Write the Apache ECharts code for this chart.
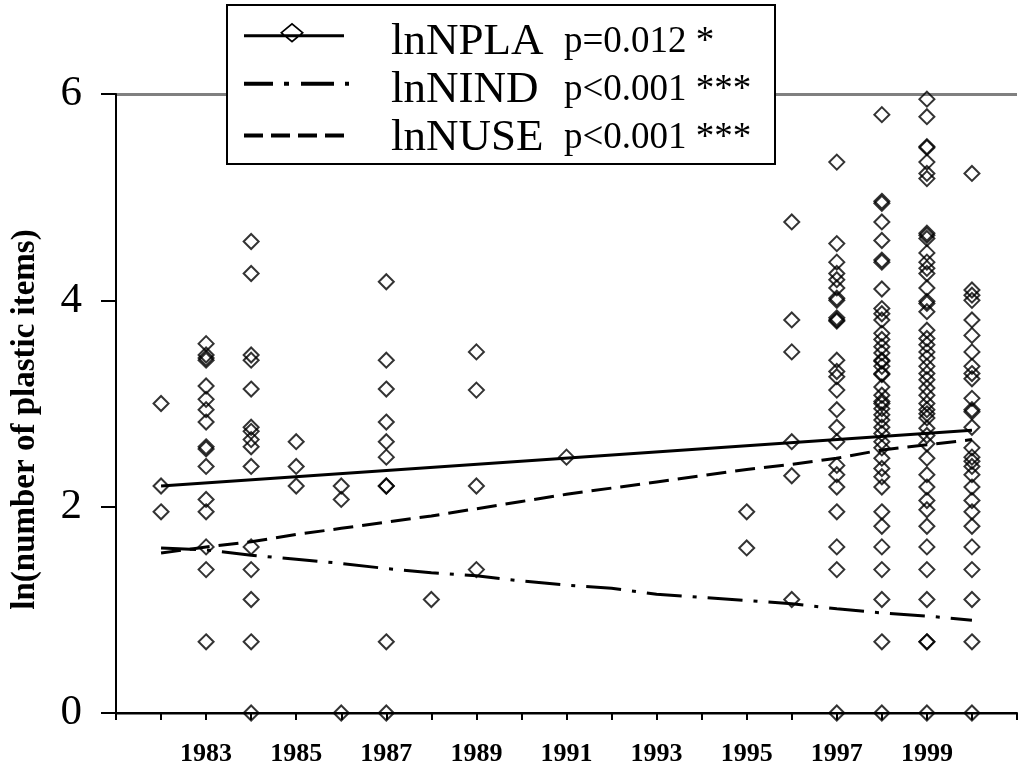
<!DOCTYPE html>
<html>
<head>
<meta charset="utf-8">
<script src="https://cdn.jsdelivr.net/npm/echarts@6/dist/echarts.min.js"></script>
<style>
  body { margin: 0; background: #fff; }
  #chart { width: 1020px; height: 769px; }
</style>
</head>
<body>
<div id="chart"></div>
<script>
// scatter points (lnNPLA), one list of values per year
var pointYears = [1982, 1983, 1984, 1985, 1986, 1987, 1988, 1989, 1991, 1995, 1996, 1997, 1998, 1999, 2000];
var pointValues = [
  [3.0, 2.2, 1.95],
  [3.58, 3.47, 3.44, 3.42, 3.17, 3.04, 2.94, 2.82, 2.58, 2.56, 2.39, 2.07, 1.95, 1.61, 1.39, 0.69],
  [4.57, 4.26, 3.47, 3.42, 3.14, 2.77, 2.73, 2.65, 2.58, 2.39, 1.61, 1.39, 1.1, 0.69, 0],
  [2.63, 2.39, 2.2],
  [2.2, 2.07, 0],
  [4.18, 3.42, 3.14, 2.82, 2.63, 2.48, 2.2, 2.2, 0.69, 0],
  [1.1],
  [3.5, 3.13, 2.2, 1.39],
  [2.48],
  [1.95, 1.6],
  [4.76, 3.81, 3.5, 2.63, 2.3, 1.1],
  [5.34, 4.55, 4.37, 4.26, 4.2, 4.12, 4.02, 4.0, 3.83, 3.81, 3.8, 3.42, 3.31, 3.26, 3.13, 2.94, 2.77, 2.63, 2.4, 2.31, 2.19, 1.95, 1.61, 1.39, 0],
  [5.8, 4.96, 4.94, 4.76, 4.58, 4.39, 4.37, 4.11, 3.92, 3.87, 3.81, 3.68, 3.62, 3.55, 3.49, 3.42, 3.41, 3.36, 3.29, 3.28, 3.16, 3.08, 3.02, 3.0, 2.95, 2.89, 2.84, 2.77, 2.71, 2.63, 2.57, 2.47, 2.37, 2.29, 2.19, 1.95, 1.81, 1.61, 1.39, 1.1, 0.69, 0],
  [5.95, 5.78, 5.49, 5.48, 5.34, 5.23, 5.18, 4.65, 4.63, 4.6, 4.46, 4.37, 4.31, 4.26, 4.12, 3.99, 3.97, 3.89, 3.71, 3.63, 3.57, 3.5, 3.44, 3.36, 3.29, 3.23, 3.15, 3.08, 3.0, 2.94, 2.9, 2.86, 2.76, 2.69, 2.61, 2.47, 2.31, 2.19, 2.06, 1.97, 1.81, 1.61, 1.39, 1.1, 0.69, 0.69, 0],
  [5.23, 4.1, 4.05, 4.0, 3.81, 3.66, 3.5, 3.36, 3.29, 3.24, 3.05, 2.94, 2.92, 2.77, 2.57, 2.48, 2.44, 2.39, 2.31, 2.19, 2.06, 1.95, 1.81, 1.61, 1.39, 1.1, 0.69, 0]
];

// trend lines
var nplaYears = [1982, 2000];
var nplaValues = [2.2, 2.74];
var trendYears = [1982, 1983, 1984, 1985, 1986, 1987, 1988, 1989, 1990, 1991, 1992, 1993, 1994, 1995, 1996, 1997, 1998, 1999, 2000];
var nindValues = [1.6, 1.58, 1.53, 1.49, 1.45, 1.4, 1.36, 1.33, 1.28, 1.24, 1.21, 1.15, 1.12, 1.09, 1.06, 1.01, 0.97, 0.94, 0.9];
var nuseValues = [1.55, 1.61, 1.66, 1.73, 1.79, 1.85, 1.91, 1.98, 2.05, 2.12, 2.18, 2.24, 2.3, 2.36, 2.41, 2.47, 2.55, 2.6, 2.65];

// axes / legend text
var labelYears = [1983, 1985, 1987, 1989, 1991, 1993, 1995, 1997, 1999];
var legendNames = ['lnNPLA', 'lnNIND', 'lnNUSE'];
var legendP = ['p=0.012 *', 'p<0.001 ***', 'p<0.001 ***'];

var serif = "'Liberation Serif', 'Times New Roman', serif";

var scatterData = [];
pointYears.forEach(function (yr, i) {
  pointValues[i].forEach(function (v) { scatterData.push([yr, v]); });
});
function pairs(xs, ys) {
  return xs.map(function (x, i) { return [x, ys[i]]; });
}

// legend samples: line + diamond, dash-dot, dash
// (the tiny square at the end only sets the bounding box so the sample sits a bit above the text middle)
var icons = {
  lnNPLA: 'path://M0,11.5L100,11.5L100,14.5L0,14.5Z M36,10L48,0L60,10L48,20Z M38.6,10L48,17.8L57.4,10L48,2.2Z M105.99,39.39H106V39.4H105.99Z',
  lnNIND: 'path://M0,0H29V4H0Z M40,0H45V4H40Z M57,0H90V4H57Z M101,0H105V4H101Z M105.99,17.39H106V17.4H105.99Z',
  lnNUSE: 'path://M0,0H19V4H0Z M27,0H46V4H27Z M54,0H73V4H54Z M81,0H100V4H81Z M105.99,9.99H106V10H105.99Z'
};

var myChart = echarts.init(document.getElementById('chart'));
var option = {
  animation: false,
  backgroundColor: '#fff',
  grid: {
    left: 116,
    right: -4,
    top: 94,
    bottom: 56
  },
  legend: {
    orient: 'vertical',
    left: 227,
    top: 5,
    padding: [15, 21, 3, 17],
    itemGap: 3,
    itemWidth: 106,
    itemHeight: 42,
    borderColor: '#000',
    borderWidth: 2,
    backgroundColor: '#fff',
    itemStyle: { borderWidth: 0 },
    data: legendNames.map(function (n) {
      return { name: n, icon: icons[n], itemStyle: { color: '#000', borderWidth: 0 } };
    }),
    formatter: function (name) {
      return '{a|' + name + '}{b|' + legendP[legendNames.indexOf(name)] + '}';
    },
    textStyle: {
      padding: [0, 0, 0, 36],
      rich: {
        a: { fontFamily: serif, fontSize: 45, color: '#000', width: 173, lineHeight: 40, verticalAlign: 'middle' },
        b: { fontFamily: serif, fontSize: 37, color: '#000', width: 190, lineHeight: 40, verticalAlign: 'middle' }
      }
    }
  },
  xAxis: {
    type: 'value',
    min: 1981,
    max: 2001,
    interval: 1,
    offset: 1.5,
    axisLine: { lineStyle: { color: '#000', width: 2 } },
    axisTick: { length: 7, lineStyle: { color: '#000', width: 2 } },
    splitLine: { show: false },
    axisLabel: {
      margin: 27,
      fontFamily: serif,
      fontWeight: 'bold',
      fontSize: 26,
      color: '#000',
      formatter: function (v) {
        return labelYears.indexOf(v) >= 0 ? String(v) : '';
      }
    }
  },
  yAxis: {
    type: 'value',
    min: 0,
    max: 6,
    interval: 2,
    name: 'ln(number of plastic items)',
    nameLocation: 'middle',
    nameGap: 74,
    nameTextStyle: {
      fontFamily: serif,
      fontWeight: 'bold',
      fontSize: 33,
      color: '#000',
      padding: [0, 32, 0, 0]
    },
    axisLine: { show: true, lineStyle: { color: '#000', width: 2 } },
    axisTick: { show: true, length: 15, lineStyle: { color: '#000', width: 2 } },
    splitLine: { show: true, lineStyle: { color: ['#808080', 'rgba(0,0,0,0)', 'rgba(0,0,0,0)'], width: 3 } },
    axisLabel: {
      margin: 34,
      fontFamily: serif,
      fontSize: 43,
      color: '#000'
    }
  },
  series: [
    {
      name: 'lnNPLA',
      type: 'line',
      symbol: 'none',
      color: '#000',
      lineStyle: { color: '#000', width: 3 },
      data: pairs(nplaYears, nplaValues),
      z: 4
    },
    {
      name: 'lnNPLA',
      type: 'scatter',
      symbol: 'diamond',
      symbolSize: 15,
      itemStyle: { color: 'rgba(0,0,0,0)', borderColor: '#000', borderWidth: 2 },
      data: scatterData,
      z: 3
    },
    {
      name: 'lnNIND',
      type: 'line',
      symbol: 'none',
      color: '#000',
      lineStyle: { color: '#000', width: 3, type: [35, 11, 4, 11], cap: 'butt' },
      data: pairs(trendYears, nindValues),
      z: 4
    },
    {
      name: 'lnNUSE',
      type: 'line',
      symbol: 'none',
      color: '#000',
      lineStyle: { color: '#000', width: 3, type: [20, 9], cap: 'butt' },
      data: pairs(trendYears, nuseValues),
      z: 4
    }
  ]
};
myChart.setOption(option);
</script>
</body>
</html>
